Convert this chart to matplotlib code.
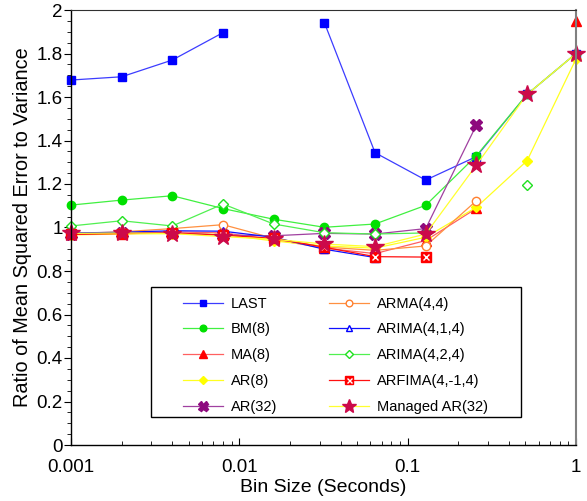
import numpy as np
import matplotlib
matplotlib.use("Agg")
from matplotlib import pyplot as plt
from matplotlib.ticker import FuncFormatter, MultipleLocator
from matplotlib.patches import Rectangle

plt.rcParams['font.family'] = ['Liberation Sans', 'DejaVu Sans']

nan = np.nan
bin_size = [0.001, 0.002, 0.004, 0.008, 0.016, 0.032, 0.064, 0.128, 0.256, 0.512, 1.0]

last = [1.678, 1.693, 1.770, 1.896, nan, 1.942, 1.344, 1.218, 1.326, 1.612, 1.800]
bm8 = [1.103, 1.126, 1.146, 1.087, 1.038, 1.001, 1.016, 1.102, 1.330, 1.612, 1.800]
ma8 = [0.970, 0.975, 0.980, 0.975, 0.945, 0.905, 0.880, 0.940, 1.088, nan, 1.950]
ar8 = [0.966, 0.970, 0.972, 0.968, 0.938, 0.915, 0.905, 0.955, 1.093, 1.307, 1.775]
ar32 = [0.970, 0.975, 0.975, 0.965, 0.962, 0.973, 0.970, 0.995, 1.471, nan, nan]
arma44 = [0.972, 0.980, 0.995, 1.013, 0.950, 0.910, 0.895, 0.915, 1.123, nan, nan]
arima414 = [0.975, 0.978, 0.985, 0.983, 0.955, 0.900, 0.862, nan, nan, nan, nan]
arima424 = [1.007, 1.031, 1.007, 1.108, 1.016, 0.976, 0.970, 0.975, nan, 1.194, nan]
arfima = [0.968, 0.972, 0.975, 0.965, 0.950, 0.909, 0.866, 0.864, nan, nan, nan]
managed = [0.973, 0.975, 0.972, 0.958, 0.946, 0.924, 0.912, 0.970, 1.287, 1.612, 1.800]

fig = plt.figure(figsize=(5.87, 5.01), dpi=100)
ax = fig.add_axes([71 / 587, 56 / 501, 505 / 587, 435 / 501])

lw = 0.9
kw = dict(lw=lw, clip_on=False)
h_last, = ax.plot(bin_size, last, color='#3c3cff', marker='s', ms=6,
                  mfc='#0000ff', mec='#0000ff', label='LAST', **kw)
h_bm, = ax.plot(bin_size, bm8, color='#40f040', marker='o', ms=6,
                mfc='#00e000', mec='#00e000', label='BM(8)', **kw)
h_ma, = ax.plot(bin_size, ma8, color='#ff6060', marker='^', ms=6.5,
                mfc='#ff0000', mec='#ff0000', label='MA(8)', **kw)
h_ar8, = ax.plot(bin_size, ar8, color='#ffff20', marker='D', ms=5,
                 mfc='#ffff00', mec='#ffff00', label='AR(8)', **kw)
h_ar32, = ax.plot(bin_size, ar32, color='#a040a0', marker='X', ms=9,
                  mfc='#8e0a7e', mec='#8e0a7e', label='AR(32)', **kw)
h_arma, = ax.plot(bin_size, arma44, color='#ff9040', marker='o', ms=6,
                  mfc='white', mec='#ff8030', label='ARMA(4,4)', **kw)
h_a414, = ax.plot(bin_size, arima414, color='#1010ff', marker='^', ms=6,
                  mfc='white', mec='#0000ff', label='ARIMA(4,1,4)', **kw)
h_a424, = ax.plot(bin_size, arima424, color='#50f050', marker='D', ms=5,
                  mfc='white', mec='#20e020', label='ARIMA(4,2,4)', **kw)
h_arf, = ax.plot(bin_size, arfima, color='#ff1010', marker='s', ms=6.5,
                 mfc='#ff0000', mec='#ff0000', label='ARFIMA(4,-1,4)', **kw)
h_arfx, = ax.plot(bin_size, arfima, ls='none', marker='x', ms=4.5, mew=1.0,
                  color='white', clip_on=False)
h_man, = ax.plot(bin_size, managed, color='#ffff30', marker='*', ms=13,
                 mfc='#cc0a4a', mec='#cc0a4a', label='Managed AR(32)', **kw)

ax.set_xscale('log')
ax.set_xlim(0.001, 1)
ax.set_ylim(0, 2)
ax.yaxis.set_major_locator(MultipleLocator(0.2))
ax.yaxis.set_minor_locator(MultipleLocator(0.05))
ax.yaxis.set_major_formatter(FuncFormatter(lambda v, p: f'{v:g}'))
ax.xaxis.set_major_formatter(FuncFormatter(lambda v, p: f'{v:g}'))
ax.tick_params(axis='y', which='major', direction='out', length=5, labelsize=13.5, pad=1)
ax.tick_params(axis='y', which='minor', direction='out', length=3)
ax.tick_params(axis='x', which='major', direction='in', length=5, labelsize=13.5, pad=10)
ax.tick_params(axis='x', which='minor', direction='in', length=3)
for s in ['left', 'bottom']:
    ax.spines[s].set_color('black')
    ax.spines[s].set_linewidth(1.0)
ax.spines['top'].set_color('#303030')
ax.spines['right'].set_color('#808080')
ax.spines['right'].set_linewidth(1.5)

ax.set_xlabel('Bin Size (Seconds)', fontsize=14, labelpad=2)
ax.set_ylabel('Ratio of Mean Squared Error to Variance', fontsize=14.3, labelpad=3)

# legend box drawn by hand, legend itself without frame
ax.add_patch(Rectangle((0.158, 0.064), 0.733, 0.299, transform=ax.transAxes,
                       fill=True, facecolor='white', edgecolor='black', lw=1.0, zorder=5))
handles = [h_last, h_bm, h_ma, h_ar8, h_ar32,
           h_arma, h_a414, h_a424, (h_arf, h_arfx), h_man]
labels = ['LAST', 'BM(8)', 'MA(8)', 'AR(8)', 'AR(32)',
          'ARMA(4,4)', 'ARIMA(4,1,4)', 'ARIMA(4,2,4)', 'ARFIMA(4,-1,4)', 'Managed AR(32)']
leg = ax.legend(handles, labels, ncol=2, loc='upper left',
                bbox_to_anchor=(0.222, 0.341), frameon=False, fontsize=10.5,
                handlelength=2.75, handletextpad=0.5, columnspacing=3.6,
                labelspacing=0.81, borderpad=0, borderaxespad=0, markerscale=0.8)
leg.set_zorder(6)

fig.savefig('out.png', dpi=100)
